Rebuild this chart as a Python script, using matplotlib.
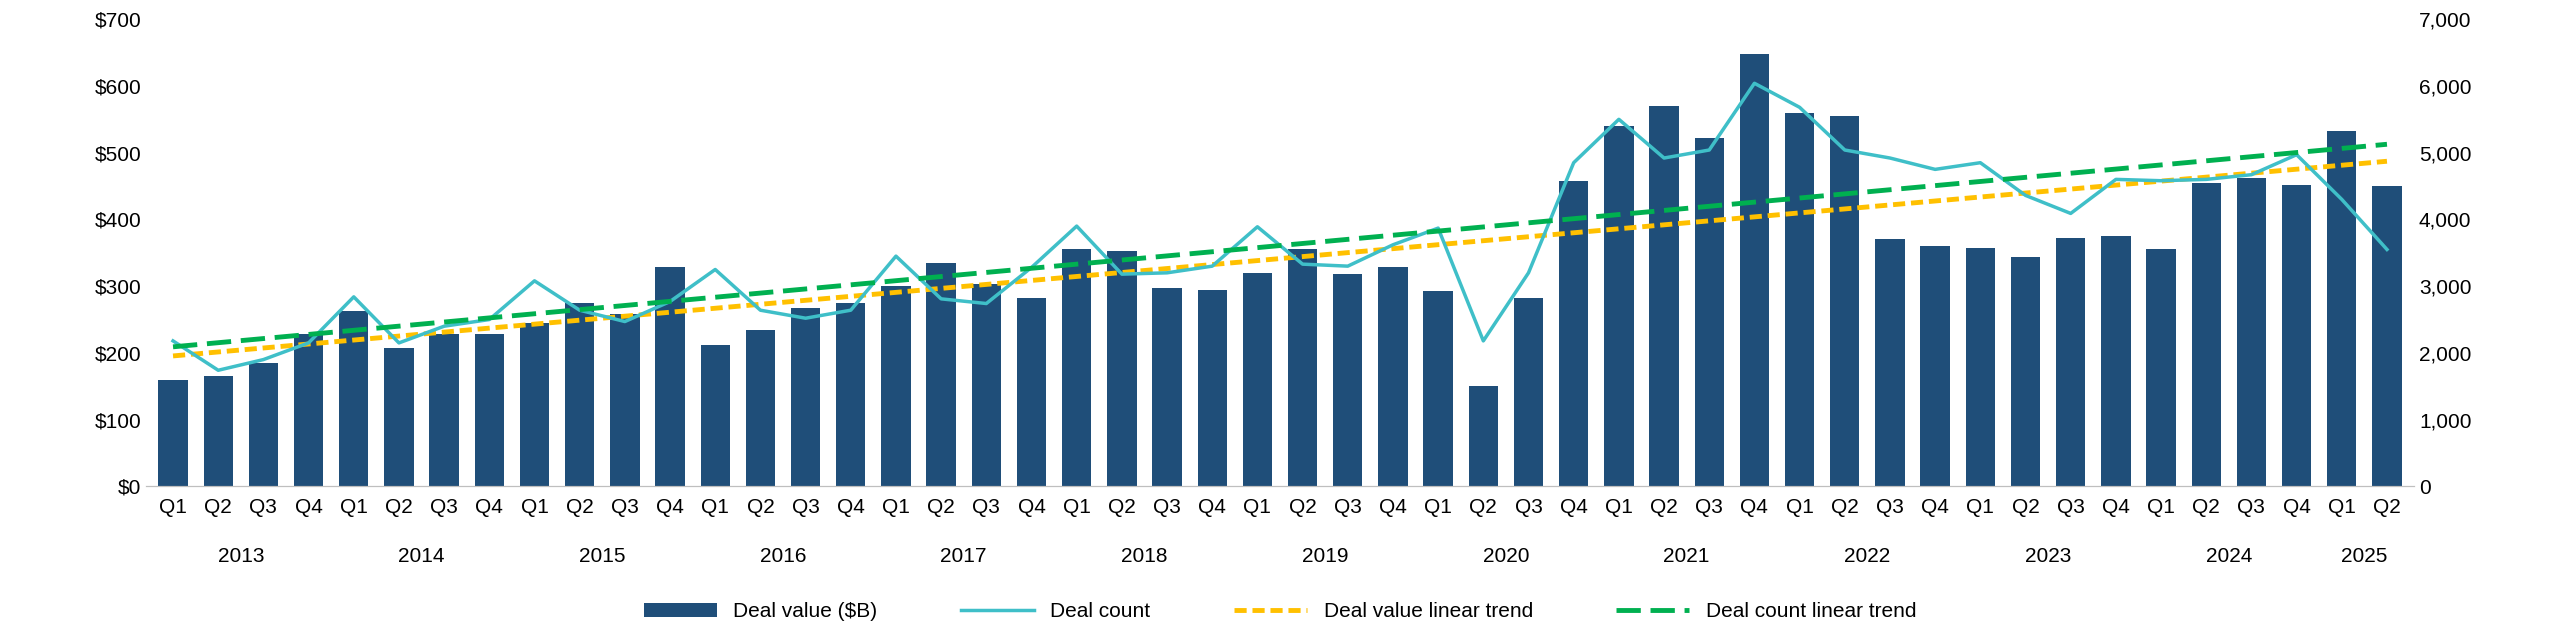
import matplotlib
matplotlib.use("Agg")
import matplotlib.pyplot as plt
import numpy as np

plt.rcParams["font.family"] = "Liberation Sans"

years = [str(y) for y in range(2013, 2026)]
quarters = ["Q1", "Q2", "Q3", "Q4"]
deal_value = [160, 165, 185, 228, 263, 207, 228, 228, 245, 275, 258, 328,
              212, 235, 268, 275, 300, 335, 303, 283, 355, 353, 298, 295,
              320, 355, 318, 328, 293, 150, 283, 458, 540, 570, 522, 648,
              560, 555, 370, 360, 357, 343, 372, 375, 355, 455, 462, 452,
              533, 450]
deal_count = [2180, 1740, 1900, 2150, 2840, 2150, 2400, 2500, 3080, 2640, 2470, 2770,
              3250, 2640, 2520, 2640, 3450, 2810, 2740, 3280, 3900, 3180, 3200, 3300,
              3890, 3330, 3300, 3620, 3870, 2180, 3200, 4850, 5500, 4920, 5040, 6040,
              5680, 5040, 4920, 4750, 4850, 4360, 4090, 4600, 4580, 4600, 4670, 4970,
              4300, 3550]

n = len(deal_value)
x = np.arange(n)
qlabels = [quarters[i % 4] for i in range(n)]

fig = plt.figure(figsize=(25.6, 6.4), dpi=100)
ax = fig.add_axes([0.057, 0.24, 0.886, 0.73])
ax2 = ax.twinx()

b = ax.bar(x, deal_value, width=0.65, color="#1F4E79", label="Deal value ($B)")
vt = np.polyval(np.polyfit(x, deal_value, 1), x)
ct = np.polyval(np.polyfit(x, deal_count, 1), x)
l1, = ax2.plot(x, deal_count, color="#3FBFC8", lw=2.5, label="Deal count")
l2, = ax.plot(x, vt, color="#FFC000", lw=3.5, ls=(0, (2.5, 1.2)), label="Deal value linear trend")
l3, = ax2.plot(x, ct, color="#00B050", lw=3.5, ls=(0, (5, 2)), label="Deal count linear trend")
ax.set_zorder(ax2.get_zorder() + 1); ax.patch.set_visible(False)
# keep bars below count line: redraw order
ax2.set_zorder(2); ax.set_zorder(1); ax.patch.set_visible(True)

ax.set_xlim(-0.6, n - 0.4)
ax.set_ylim(0, 700)
ax2.set_ylim(0, 7000)
ax.set_yticks(range(0, 701, 100))
ax.set_yticklabels([f"${v}" for v in range(0, 701, 100)], fontsize=15)
ax2.set_yticks(range(0, 7001, 1000))
ax2.set_yticklabels([f"{v:,}" for v in range(0, 7001, 1000)], fontsize=15)
ax.set_xticks(x)
ax.set_xticklabels(qlabels, fontsize=15)
ax.tick_params(axis="x", length=0, pad=8)
for a in (ax, ax2):
    a.tick_params(axis="y", length=0)
    for s in ("top", "left", "right"):
        a.spines[s].set_visible(False)
    a.spines["bottom"].set_color("#BFBFBF")

for i, y in enumerate(years):
    idx = [j for j in range(n) if j // 4 == i]
    cx = np.mean(idx)
    ax.text(cx, -0.13, y, transform=ax.get_xaxis_transform(), ha="center", va="top", fontsize=15)

fig.legend([b, l1, l2, l3], [h.get_label() for h in [b, l1, l2, l3]],
           loc="lower center", bbox_to_anchor=(0.5, 0.0), ncol=4, frameon=False,
           fontsize=15, handlelength=3.5, columnspacing=4)
fig.savefig("out.png", dpi=100)
